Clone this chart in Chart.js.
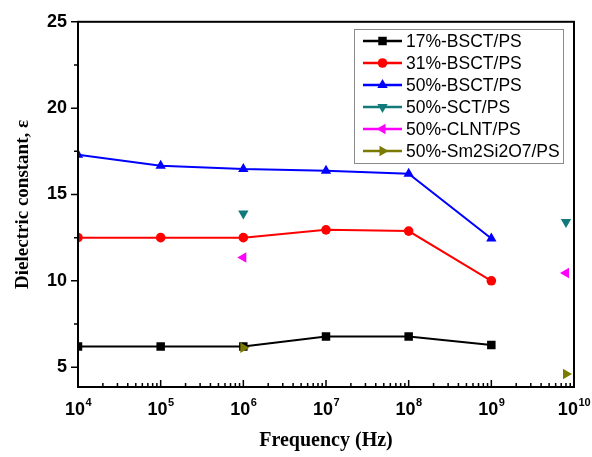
<!DOCTYPE html>
<html>
<head>
<meta charset="utf-8">
<script src="https://cdn.jsdelivr.net/npm/chart.js@4.4.1/dist/chart.umd.min.js"></script>
<style>
html,body{margin:0;padding:0;background:#fff;}
#wrap{width:592px;height:457px;position:relative;}
</style>
</head>
<body>
<div id="wrap"><canvas id="c" width="592" height="457"></canvas></div>
<script>
// ---- data ----
const freqMain = [1e4, 1e5, 1e6, 1e7, 1e8, 1e9];
const bsct17 = [6.2, 6.2, 6.2, 6.78, 6.78, 6.28];
const bsct31 = [12.5, 12.5, 12.5, 12.95, 12.88, 10.0];
const bsct50 = [17.3, 16.67, 16.47, 16.38, 16.2, 12.45];
const freqSingle = [1e6, 8e9];
const sct50 = [13.9, 13.4];
const clnt50 = [11.35, 10.45];
const sm50 = [6.12, 4.6];
const seriesLabels = ['17%-BSCT/PS', '31%-BSCT/PS', '50%-BSCT/PS', '50%-SCT/PS', '50%-CLNT/PS', '50%-Sm2Si2O7/PS'];
const xTicks = [1e4, 1e5, 1e6, 1e7, 1e8, 1e9, 1e10];
const yTicks = [5, 10, 15, 20, 25];
const yMinor = [7.5, 12.5, 17.5, 22.5];

function pts(xs, ys){ return xs.map((x,i)=>({x:x, y:ys[i]})); }

const colors = ['#000000', '#ff0000', '#0000ff', '#127a7a', '#ff00ff', '#7a7a00'];
const styles = ['rect', 'circle', 'triangle', 'triangle', 'triangle', 'triangle'];
const rots = [0, 0, 0, 180, 270, 90];
const radii = [6, 4.8, 6, 6, 6, 6];
const dataArr = [pts(freqMain,bsct17), pts(freqMain,bsct31), pts(freqMain,bsct50),
                 pts(freqSingle,sct50), pts(freqSingle,clnt50), pts(freqSingle,sm50)];
const showLines = [true, true, true, false, false, false];

const datasets = seriesLabels.map((lab,i)=>({
  label: lab,
  data: dataArr[i],
  order: showLines[i] ? 1 : 0,
  borderColor: colors[i],
  backgroundColor: colors[i],
  pointBackgroundColor: colors[i],
  pointBorderColor: colors[i],
  pointStyle: styles[i],
  rotation: rots[i],
  pointRotation: rots[i],
  pointRadius: radii[i],
  pointBorderWidth: 0,
  borderWidth: 2,
  showLine: showLines[i],
  tension: 0
}));

const framePlugin = {
  id: 'frame',
  afterDatasetsDraw(chart){
    const ctx = chart.ctx, a = chart.chartArea;
    const xs = chart.scales.x, ys = chart.scales.y;
    ctx.save();
    ctx.strokeStyle = '#000';
    ctx.lineWidth = 2;
    ctx.strokeRect(a.left, a.top, a.right - a.left, a.bottom - a.top);
    ctx.lineWidth = 1.5;
    ctx.beginPath();
    // x ticks (inward)
    for (let d = 4; d < 10; d++){
      for (let m = 1; m <= 9; m++){
        const v = m * Math.pow(10, d);
        const px = xs.getPixelForValue(v);
        const len = (m === 1) ? 7 : 4;
        ctx.moveTo(px, a.bottom); ctx.lineTo(px, a.bottom - len);
      }
    }
    const pxEnd = xs.getPixelForValue(1e10);
    ctx.moveTo(pxEnd, a.bottom); ctx.lineTo(pxEnd, a.bottom - 7);
    // y ticks (outward)
    yTicks.forEach(v=>{ const py = ys.getPixelForValue(v); ctx.moveTo(a.left, py); ctx.lineTo(a.left - 7, py); });
    yMinor.forEach(v=>{ const py = ys.getPixelForValue(v); ctx.moveTo(a.left, py); ctx.lineTo(a.left - 4, py); });
    ctx.stroke();
    // x tick labels: 10 with superscript exponent
    ctx.fillStyle = '#000';
    ctx.textBaseline = 'alphabetic';
    ctx.textAlign = 'left';
    const bigFont = 'bold 18px "Liberation Sans", Arial, sans-serif';
    const smallFont = 'bold 11px "Liberation Sans", Arial, sans-serif';
    xTicks.forEach(v=>{
      const e = String(Math.round(Math.log10(v)));
      ctx.font = bigFont; const wb = ctx.measureText('10').width;
      ctx.font = smallFont; const ws = ctx.measureText(e).width;
      const px = xs.getPixelForValue(v);
      const x0 = px - (wb + ws) / 2;
      const base = a.bottom + 28;
      ctx.font = bigFont; ctx.fillText('10', x0, base);
      ctx.font = smallFont; ctx.fillText(e, x0 + wb + 0.5, base - 9);
    });
    ctx.restore();
  }
};

const legendPlugin = {
  id: 'customLegend',
  afterDraw(chart){
    const ctx = chart.ctx;
    const bx = 354, by = 29, bw = 209, bh = 134;
    ctx.save();
    ctx.fillStyle = '#fff';
    ctx.fillRect(bx, by, bw, bh);
    ctx.strokeStyle = '#8a8a8a';
    ctx.lineWidth = 1;
    ctx.strokeRect(bx + 0.5, by + 0.5, bw, bh);
    chart.data.datasets.forEach((ds, i)=>{
      const cy = 41 + i * 22;
      ctx.strokeStyle = ds.borderColor;
      ctx.lineWidth = 2.5;
      ctx.beginPath(); ctx.moveTo(363, cy); ctx.lineTo(402, cy); ctx.stroke();
      ctx.fillStyle = ds.backgroundColor;
      Chart.helpers.drawPoint(ctx, {pointStyle: ds.pointStyle, rotation: ds.rotation, radius: ds.pointRadius, borderWidth: 0}, 382.5, cy);
      ctx.fillStyle = '#000';
      ctx.font = '17.5px "Liberation Sans", Arial, sans-serif';
      ctx.textBaseline = 'middle';
      ctx.textAlign = 'left';
      ctx.fillText(ds.label, 406, cy + 1);
    });
    ctx.restore();
  }
};

new Chart(document.getElementById('c'), {
  type: 'line',
  data: { datasets: datasets },
  plugins: [framePlugin, legendPlugin],
  options: {
    responsive: false,
    animation: false,
    layout: { padding: { left: 0, right: 18, top: 19, bottom: 0 } },
    plugins: { legend: { display: false }, tooltip: { enabled: false } },
    scales: {
      x: {
        type: 'logarithmic',
        min: 1e4, max: 1e10,
        afterBuildTicks(s){ s.ticks = xTicks.map(v=>({value:v})); },
        afterFit(s){ s.height = 70; s.paddingLeft = 0; s.paddingRight = 0; },
        grid: { display: false, drawTicks: false },
        border: { display: true, color: '#000', width: 2 },
        ticks: { display: false },
        title: {
          display: true, text: 'Frequency (Hz)', color: '#000',
          font: { family: '"Liberation Serif", "Times New Roman", serif', size: 20, weight: 'bold' },
          padding: { top: 0, bottom: 4 }
        }
      },
      y: {
        type: 'linear',
        min: 3.85, max: 25,
        afterBuildTicks(s){ s.ticks = yTicks.map(v=>({value:v})); },
        afterFit(s){ s.width = 78; },
        grid: { display: false, drawTicks: false },
        border: { display: true, color: '#000', width: 2 },
        ticks: {
          padding: 11, color: '#000',
          font: { family: '"Liberation Sans", Arial, sans-serif', size: 18, weight: 'bold' }
        },
        title: {
          display: true, text: 'Dielectric constant, ε', color: '#000',
          font: { family: '"Liberation Serif", "Times New Roman", serif', size: 19, weight: 'bold' },
          padding: { top: 12, bottom: 0 }
        }
      }
    }
  }
});
</script>
</body>
</html>
